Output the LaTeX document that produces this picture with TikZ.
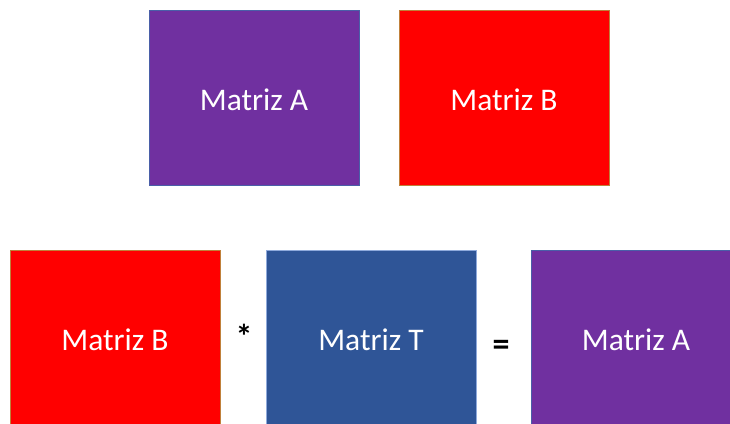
\documentclass[tikz,border=0pt]{standalone}
\usepackage{fontspec}
\setmainfont{Carlito}
\definecolor{mpurple}{HTML}{7030A0}
\definecolor{mred}{HTML}{FF0000}
\definecolor{mblue}{HTML}{2F5597}
\definecolor{bpurple}{HTML}{4A5FA8}
\definecolor{bred}{HTML}{C0803A}
\definecolor{bblue}{HTML}{8FAADC}
\begin{document}
\begin{tikzpicture}[x=1pt,y=-1pt,
  matbox/.style={rectangle, minimum width=210pt, minimum height=175pt, inner sep=0pt, line width=0.8pt, text=white, text height=25pt, text depth=0pt, font=\fontsize{31.5}{36}\selectfont},
  op/.style={font=\fontsize{34}{40}\selectfont\bfseries, text=black, inner sep=0pt}]
\useasboundingbox (0,0) rectangle (730,423);
\clip (0,0) rectangle (730,423);
\node[matbox, fill=mpurple, draw=bpurple] (topA) at (254,97.5) {Matriz A};
\node[matbox, fill=mred, draw=bred] (topB) at (504,97.5) {Matriz B};
\node[matbox, fill=mred, draw=bred] (botB) at (115,337.5) {Matriz B};
\node[matbox, fill=mblue, draw=bblue] (botT) at (371,337.5) {Matriz T};
\node[matbox, fill=mpurple, draw=bpurple] (botA) at (636,337.5) {Matriz A};
\node[op] (times) at (244,336) {*};
\node[op] (eq) at (501,348) {=};
\end{tikzpicture}
\end{document}
